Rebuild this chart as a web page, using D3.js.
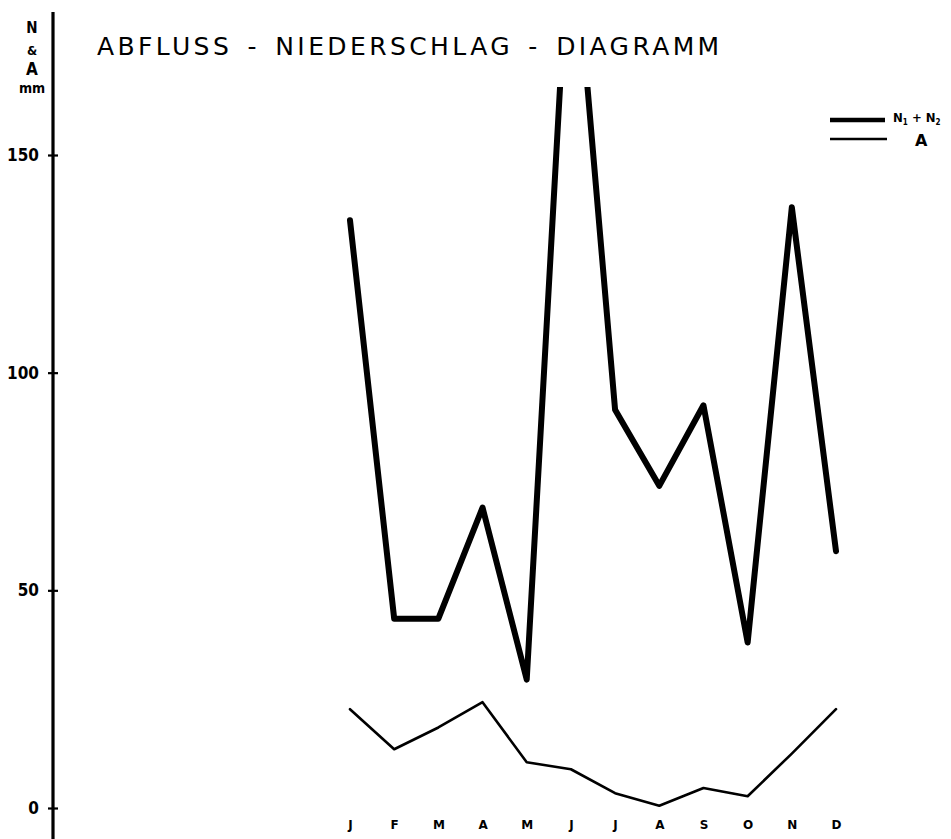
<!DOCTYPE html>
<html>
<head>
<meta charset="utf-8">
<script src="https://cdn.jsdelivr.net/npm/d3@7"></script>
<style>
  html, body { margin: 0; padding: 0; background: #fff; }
  svg { display: block; }
</style>
</head>
<body>
<svg id="chart" width="951" height="839"></svg>
<script>
// ---- data ----
const monthLabels = ["J", "F", "M", "A", "M", "J", "J", "A", "S", "O", "N", "D"];
const niederschlag = [135, 43.5, 43.5, 69, 29.5, 210, 91.5, 74, 92.5, 38, 138, 59]; // N1+N2 (June runs off the sheet)
const abfluss = [22.7, 13.5, 18.5, 24.3, 10.5, 8.9, 3.4, 0.5, 4.6, 2.7, 12.5, 22.7]; // A
const yTicks = [0, 50, 100, 150];
const titleText = "ABFLUSS - NIEDERSCHLAG - DIAGRAMM";

// ---- layout ----
const svg = d3.select("#chart");
const axisX = 53;
const x = d3.scalePoint().domain(d3.range(monthLabels.length)).range([350, 836]);
const y = d3.scaleLinear().domain([0, 150]).range([808, 155]);

const ink = "#000";

// clip (the June peak runs off the top of the sheet)
svg.append("defs").append("clipPath").attr("id", "plotclip")
  .append("rect").attr("x", 0).attr("y", 87).attr("width", 951).attr("height", 760);

// y axis line
svg.append("line")
  .attr("x1", axisX).attr("x2", axisX)
  .attr("y1", 12).attr("y2", 839)
  .attr("stroke", ink).attr("stroke-width", 3.2);

// y axis ticks & labels
const yAxis = d3.axisLeft(y).tickValues(yTicks).tickSize(5).tickPadding(9).tickFormat(d3.format("d"));
const gy = svg.append("g").attr("transform", `translate(${axisX},0)`).call(yAxis);
gy.select(".domain").remove();
gy.selectAll(".tick line").attr("x1", -5).attr("x2", 5).attr("stroke", ink).attr("stroke-width", 2.2);
gy.selectAll(".tick text")
  .attr("fill", ink)
  .style("font-family", "'DejaVu Sans Condensed', 'DejaVu Sans', sans-serif")
  .style("font-weight", "bold")
  .style("font-size", "17px");

// y axis unit label (stacked)
const unit = svg.append("g")
  .style("font-family", "'DejaVu Sans Condensed', 'DejaVu Sans', sans-serif")
  .style("font-weight", "bold")
  .attr("fill", ink)
  .attr("text-anchor", "middle");
[["N", 33, 15], ["&", 55, 13], ["A", 75, 17], ["mm", 93, 14]].forEach(([t, yy, fs]) => {
  unit.append("text").attr("x", 32).attr("y", yy).style("font-size", fs + "px").text(t);
});

// title
svg.append("text")
  .attr("x", 97).attr("y", 55)
  .attr("fill", ink)
  .style("font-family", "'DejaVu Sans', sans-serif")
  .style("font-size", "25px")
  .style("letter-spacing", "3.4px")
  .style("word-spacing", "4px")
  .text(titleText);

// month labels
const xAxis = d3.axisBottom(x).tickSize(0).tickPadding(0).tickFormat(i => monthLabels[i]);
const gx = svg.append("g").attr("transform", "translate(0,820)").call(xAxis);
gx.select(".domain").remove();
gx.selectAll(".tick text")
  .attr("fill", ink)
  .style("font-family", "'DejaVu Sans', sans-serif")
  .style("font-weight", "bold")
  .style("font-size", "12px");

// lines
const lineGen = d3.line().x((d, i) => x(i)).y(d => y(d));

svg.append("path")
  .datum(abfluss)
  .attr("d", lineGen)
  .attr("fill", "none")
  .attr("stroke", ink)
  .attr("stroke-width", 2.6)
  .attr("stroke-linejoin", "round")
  .attr("stroke-linecap", "round");

svg.append("path")
  .datum(niederschlag)
  .attr("clip-path", "url(#plotclip)")
  .attr("d", lineGen)
  .attr("fill", "none")
  .attr("stroke", ink)
  .attr("stroke-width", 6)
  .attr("stroke-linejoin", "round")
  .attr("stroke-linecap", "round");

// legend
const legend = svg.append("g");
legend.append("line").attr("x1", 830).attr("x2", 885).attr("y1", 120).attr("y2", 120)
  .attr("stroke", ink).attr("stroke-width", 4.5);
legend.append("line").attr("x1", 830).attr("x2", 887).attr("y1", 139).attr("y2", 139)
  .attr("stroke", ink).attr("stroke-width", 2.6);
const lt = legend.append("text").attr("x", 893).attr("y", 122)
  .attr("fill", ink)
  .style("font-family", "'DejaVu Sans Condensed', 'DejaVu Sans', sans-serif")
  .style("font-weight", "bold")
  .style("font-size", "13px");
lt.append("tspan").text("N");
lt.append("tspan").attr("dy", 3).style("font-size", "8px").text("1");
lt.append("tspan").attr("dy", -3).text(" + N");
lt.append("tspan").attr("dy", 3).style("font-size", "8px").text("2");
legend.append("text").attr("x", 915).attr("y", 146)
  .attr("fill", ink)
  .style("font-family", "'DejaVu Sans', sans-serif")
  .style("font-weight", "bold")
  .style("font-size", "16px")
  .text("A");
</script>
</body>
</html>
